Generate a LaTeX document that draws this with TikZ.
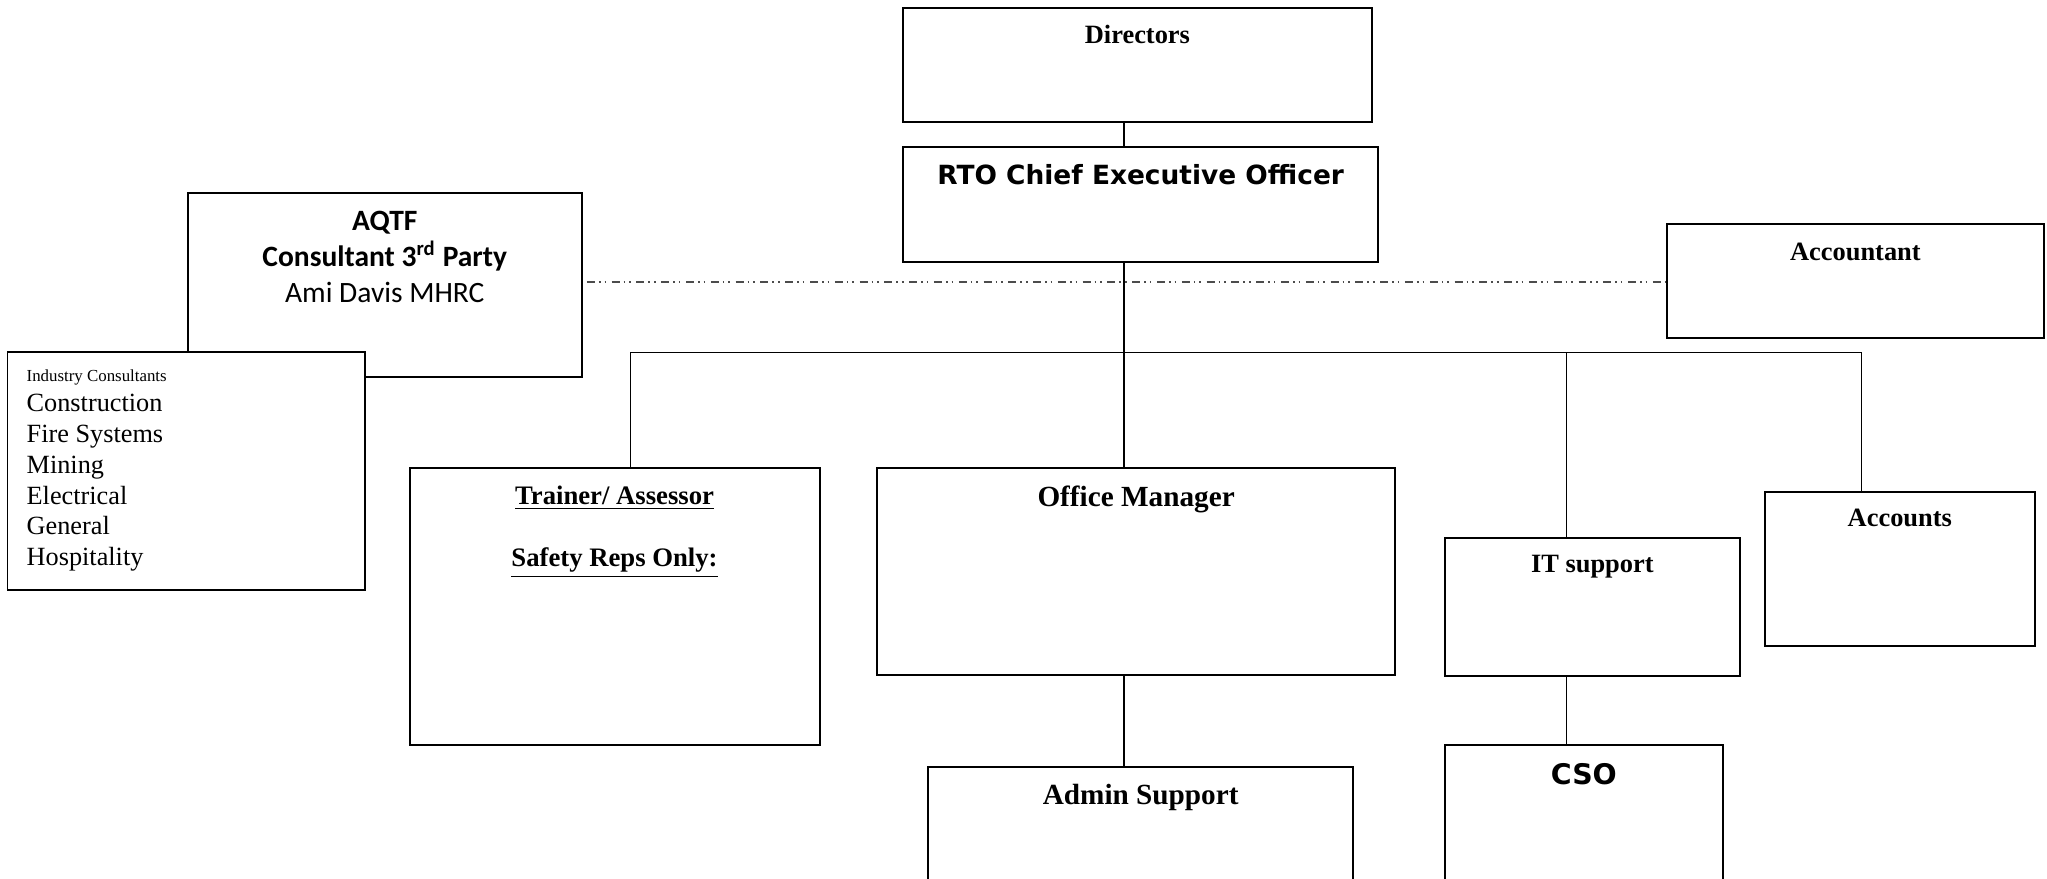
\documentclass[tikz,border=0pt]{standalone}
\usepackage{fontspec}
\setmainfont{Liberation Serif}
\newfontfamily\verdfont{DejaVu Sans}
\newfontfamily\califont{Carlito}
\usetikzlibrary{positioning}
\newcommand{\unitpx}{0.01632cm}
\tikzset{
    rolebox/.style 2 args={draw, line width=0.7pt, fill=white, anchor=north west, inner sep=0pt, minimum width=#1*\unitpx, minimum height=#2*\unitpx},
    roletext/.style={inner sep=0pt, align=center, font=\bfseries\fontsize{9.4}{11.4}\selectfont},
    link/.style={line width=0.55pt},
    dotline/.style={line width=0.6pt, black!70, dash pattern=on 0.1cm off 0.05cm on 0.02cm off 0.05cm on 0.02cm off 0.07cm}
}
\begin{document}
\begin{tikzpicture}[x=\unitpx, y=-\unitpx]
        \path [use as bounding box] (0,0) rectangle (1568,673);
        \clip (0,0) rectangle (1568,673);
        \node [rolebox={359}{88}] (dir) at (691,5) {};
        \node [rolebox={364}{88}] (ceo) at (691,112) {};
        \node [rolebox={302}{141}] (aqtf) at (143,147) {};
        \node [rolebox={289}{87}] (acct) at (1276,171) {};
        \node [rolebox={274}{182}] (ind) at (5,269) {};
        \node [rolebox={314}{212}] (train) at (313,358) {};
        \node [rolebox={397}{158}] (om) at (671,358) {};
        \node [rolebox={226}{106}] (it) at (1106,411) {};
        \node [rolebox={207}{118}] (accs) at (1351,376) {};
        \node [rolebox={326}{110}] (admin) at (710,587) {};
        \node [rolebox={213}{130}] (cso) at (1106,570) {};
        \node [roletext, below=0.22cm of dir.north] (dirt) {Directors};
        \node [roletext, font=\verdfont\bfseries\fontsize{9.4}{11}\selectfont, below=0.22cm of ceo.north] (ceot) {RTO Chief Executive Officer};
        \node [roletext, font=\califont\fontsize{10.5}{12.9}\selectfont, below=0.23cm of aqtf.north] (aqtft) {\textbf{AQTF}\\\textbf{Consultant 3\textsuperscript{rd} Party}\\Ami Davis MHRC};
        \node [roletext, below=0.24cm of acct.north] (acctt) {Accountant};
        \node [roletext, align=left, font=\fontsize{9.35}{10.95}\selectfont, below right=0.22cm and 0.245cm of ind.north west] (indt) {{\fontsize{6}{7}\selectfont Industry Consultants}\\Construction\\Fire Systems\\Mining\\Electrical\\General\\Hospitality};
        \node [roletext, font=\bfseries\fontsize{9.5}{11.4}\selectfont, below=0.22cm of train.north] (traint) {\underline{Trainer/ Assessor}\\[10.9pt]\underline{Safety Reps Only:}};
        \node [roletext, font=\bfseries\fontsize{10.4}{12}\selectfont, below=0.22cm of om.north] (omt) {Office Manager};
        \node [roletext, below=0.22cm of it.north] (itt) {IT support};
        \node [roletext, below=0.22cm of accs.north] (accst) {Accounts};
        \node [roletext, font=\bfseries\fontsize{10.4}{12}\selectfont, below=0.22cm of admin.north] (admint) {Admin Support};
        \node [roletext, font=\verdfont\bfseries\fontsize{10.1}{12}\selectfont, below=0.24cm of cso.north] (csot) {CSO};
        \coordinate (spine) at (861,270);
        \coordinate (busl) at (483,270);
        \coordinate (busr) at (1426,270);
        \coordinate (itdrop) at (1200,270);
        \coordinate (dash) at (861,216);
        \draw [link] (dir.south -| spine) -- (ceo.north -| spine);
        \draw [link] (ceo.south -| spine) -- (spine);
        \draw [link] (busl) -- (busr);
        \draw [link] (busl) -- (train.north -| busl);
        \draw [link] (spine) -- (om.north -| spine);
        \draw [link] (itdrop) -- (it.north -| itdrop);
        \draw [link] (busr) -- (accs.north -| busr);
        \draw [link] (om.south -| spine) -- (admin.north -| spine);
        \draw [link] (it.south -| itdrop) -- (cso.north -| itdrop);
        \draw [dotline] ([xshift=0.05cm]aqtf.east |- dash) -- (acct.west |- dash);
\end{tikzpicture}
\end{document}
